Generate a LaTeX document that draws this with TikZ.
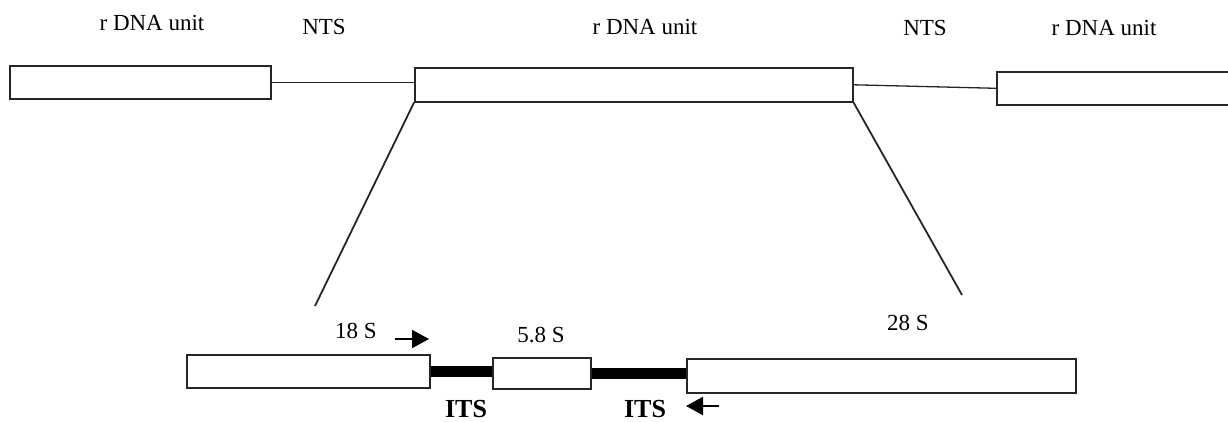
\documentclass[tikz,border=0pt]{standalone}
\usepackage{fontspec}
\setmainfont{Liberation Serif}
\usetikzlibrary{arrows.meta}
\begin{document}
\begin{tikzpicture}[x=1pt,y=-1pt,
  unitbox/.style={draw=black!85,line width=1.6pt,fill=white,rectangle,inner sep=0pt,anchor=north west},
  spacer/.style={draw=black!85,line width=1.3pt},
  zoomline/.style={draw=black!85,line width=1.8pt},
  its/.style={draw=black,line width=11pt},
  lbl/.style={font=\fontsize{23}{27}\selectfont,anchor=base,inner sep=0pt},
  itslbl/.style={font=\fontsize{26}{30}\selectfont\bfseries,anchor=base,inner sep=0pt},
  primer/.style={draw=black,line width=2pt,-{Triangle[length=17pt,width=18pt]}}]
\useasboundingbox (0,0) rectangle (1228,422);
\clip (0,0) rectangle (1228,422);

% repeated rDNA units joined by non-transcribed spacers
\node[unitbox,minimum width=261pt,minimum height=33pt] (u1) at (9,65) {};
\node[unitbox,minimum width=438pt,minimum height=34pt] (u2) at (414,67) {};
\node[unitbox,minimum width=260pt,minimum height=33pt] (u3) at (996,71) {};
\draw[spacer] (u1.east) -- (u2.west |- u1.east);
\draw[spacer] (u2.east) -- (u3.west);

\node[lbl] (t1) at (152,31) {r DNA unit};
\node[lbl] (t2) at (324,35) {NTS};
\node[lbl] (t3) at (645,35) {r DNA unit};
\node[lbl] (t4) at (925,36) {NTS};
\node[lbl] (t5) at (1104,36) {r DNA unit};

% expansion of one unit
\coordinate (zl) at (315,306);
\coordinate (zr) at (962,295);
\draw[zoomline] (u2.south west) -- (zl);
\draw[zoomline] (u2.south east) -- (zr);

% 18S - ITS - 5.8S - ITS - 28S
\node[unitbox,minimum width=243pt,minimum height=33pt] (b18) at (186,354) {};
\node[unitbox,minimum width=98pt,minimum height=31pt] (b58) at (492,357) {};
\node[unitbox,minimum width=389pt,minimum height=34pt] (b28) at (686,358) {};
\draw[its] (b18.east) -- (b58.west |- b18.east);
\draw[its] (b58.east) -- (b28.west |- b58.east);

\node[lbl] (l18) at (356,338) {18 S};
\node[lbl] (l58) at (541,342) {5.8 S};
\node[lbl] (l28) at (908,330) {28 S};
\node[itslbl] (i1) at (466,417) {ITS};
\node[itslbl] (i2) at (645,417) {ITS};

% primer positions
\coordinate (pf0) at (395,339);
\coordinate (pf1) at (429,339);
\coordinate (pr0) at (719,406);
\coordinate (pr1) at (686,406);
\draw[primer] (pf0) -- (pf1);
\draw[primer] (pr0) -- (pr1);
\end{tikzpicture}
\end{document}
